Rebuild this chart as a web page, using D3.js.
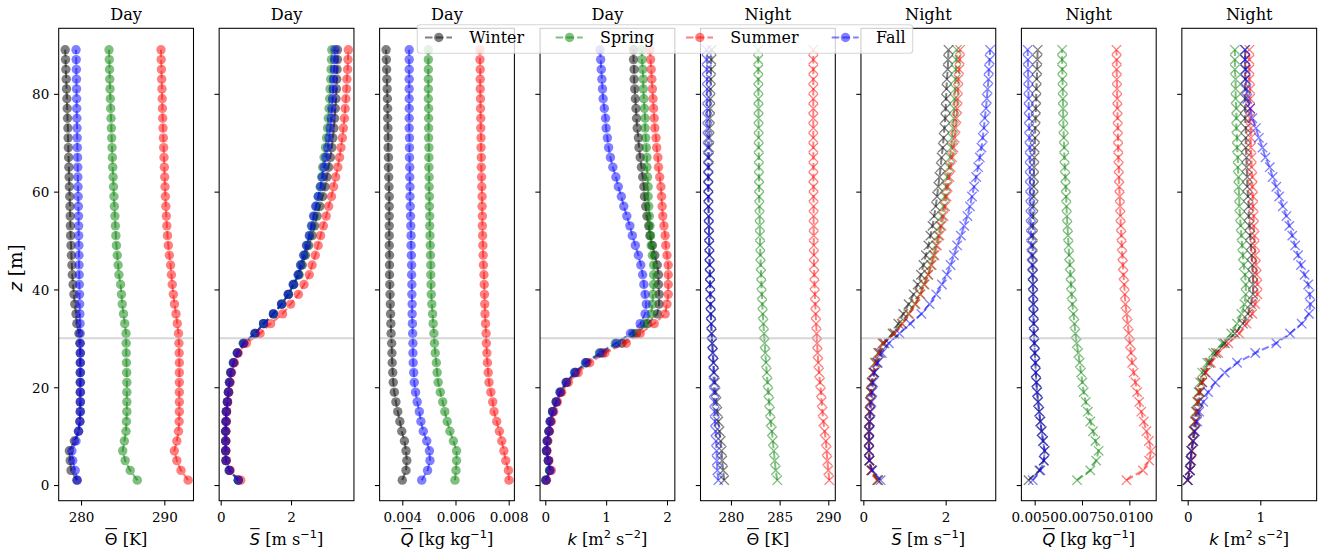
<!DOCTYPE html>
<html><head><meta charset="utf-8">
<script src="https://cdn.jsdelivr.net/npm/d3@7"></script>
<style>body{margin:0;background:#fff}</style>
</head><body>
<svg id="c" width="1323" height="554" xmlns="http://www.w3.org/2000/svg"></svg>
<script>
// ---------------- data ----------------
const heights = [1,3,5,7,9,11,13,15,17,19,21,23,25,27,29,31,33,35,37,39,41,43,45,47,49,51,53,55,57,59,61,63,65,67,69,71,73,75,77,79,81,83,85,87,89];
const seasons = ["Winter","Spring","Summer","Fall"];
const seasonColors = ["#000000","#008000","#ff0000","#0000ff"];

// Day: potential temperature [K]
const thetaDayWinter = [279.5,278.8,278.7,278.6,279.2,279.7,279.85,279.9,279.9,279.9,279.9,279.9,279.9,279.9,279.85,279.75,279.5,279.4,279.25,279.15,279.05,278.95,278.9,278.85,278.8,278.75,278.72,278.7,278.67,278.64,278.6,278.57,278.54,278.51,278.48,278.45,278.42,278.38,278.34,278.3,278.26,278.22,278.18,278.14,278.1];
const thetaDaySpring = [286.75,285.9,285.3,285.0,285.2,285.4,285.45,285.5,285.5,285.5,285.5,285.48,285.45,285.43,285.42,285.4,285.25,285.1,284.95,284.85,284.75,284.55,284.45,284.35,284.25,284.18,284.12,284.06,284.0,283.95,283.9,283.85,283.8,283.76,283.72,283.68,283.64,283.6,283.56,283.52,283.48,283.45,283.42,283.39,283.36];
const thetaDaySummer = [292.85,292.0,291.5,291.2,291.5,291.7,291.78,291.8,291.8,291.8,291.8,291.8,291.8,291.78,291.75,291.7,291.55,291.4,291.22,291.08,290.95,290.85,290.75,290.6,290.48,290.38,290.3,290.24,290.18,290.12,290.08,290.04,290.0,289.96,289.92,289.88,289.84,289.8,289.77,289.74,289.71,289.68,289.65,289.62,289.6];
const thetaDayFall = [279.55,279.3,279.0,278.9,279.4,279.7,279.88,279.92,279.93,279.93,279.93,279.93,279.93,279.93,279.92,279.9,279.88,279.86,279.84,279.82,279.8,279.78,279.76,279.75,279.74,279.72,279.71,279.7,279.68,279.66,279.64,279.62,279.6,279.58,279.56,279.54,279.52,279.5,279.48,279.47,279.46,279.45,279.44,279.42,279.4];

// Day: wind speed [m/s]
const sDayWinter = [0.5,0.24,0.15,0.14,0.14,0.14,0.15,0.16,0.19,0.22,0.25,0.29,0.37,0.48,0.66,0.98,1.22,1.5,1.74,1.93,2.08,2.23,2.32,2.41,2.5,2.6,2.67,2.74,2.82,2.9,2.97,3.02,3.07,3.12,3.16,3.19,3.22,3.24,3.26,3.28,3.29,3.3,3.31,3.32,3.32];
const sDaySpring = [0.5,0.25,0.15,0.14,0.14,0.14,0.15,0.16,0.19,0.22,0.25,0.28,0.36,0.47,0.64,0.98,1.22,1.5,1.73,1.92,2.07,2.21,2.28,2.37,2.45,2.53,2.6,2.66,2.72,2.78,2.83,2.87,2.9,2.94,2.98,3.01,3.04,3.06,3.08,3.1,3.11,3.13,3.14,3.15,3.16];
const sDaySummer = [0.57,0.27,0.16,0.15,0.15,0.15,0.16,0.17,0.2,0.23,0.27,0.31,0.39,0.5,0.73,1.12,1.42,1.76,1.99,2.21,2.37,2.52,2.6,2.69,2.77,2.84,2.92,3.0,3.07,3.15,3.21,3.27,3.33,3.38,3.42,3.46,3.49,3.52,3.54,3.56,3.58,3.59,3.61,3.62,3.63];
const sDayFall = [0.5,0.25,0.15,0.14,0.14,0.14,0.15,0.16,0.19,0.22,0.25,0.29,0.36,0.47,0.65,0.97,1.22,1.5,1.73,1.92,2.06,2.2,2.27,2.36,2.44,2.52,2.58,2.64,2.7,2.77,2.84,2.89,2.94,2.99,3.04,3.08,3.11,3.14,3.16,3.18,3.2,3.21,3.23,3.24,3.25];

// Day: specific humidity [kg/kg]
const qDayWinter = [0.0040,0.00414,0.00417,0.00414,0.00408,0.00398,0.00391,0.00383,0.00376,0.0037,0.00366,0.00364,0.00362,0.00361,0.0036,0.00358,0.00357,0.00356,0.00355,0.00354,0.00353,0.00352,0.00352,0.00352,0.00351,0.00351,0.00351,0.00351,0.00351,0.00351,0.0035,0.00349,0.00348,0.00348,0.00347,0.00347,0.00346,0.00345,0.00345,0.00344,0.00343,0.00342,0.00341,0.0034,0.00339];
const qDaySpring = [0.00598,0.00602,0.00604,0.00604,0.00592,0.00579,0.00569,0.0056,0.00552,0.00543,0.00535,0.00531,0.00528,0.00524,0.00521,0.00519,0.00516,0.00514,0.00511,0.00509,0.00508,0.00507,0.00507,0.00506,0.00505,0.00504,0.00503,0.00503,0.00502,0.00502,0.00501,0.00501,0.005,0.005,0.005,0.00499,0.00499,0.00499,0.00499,0.00498,0.00498,0.00498,0.00498,0.00498,0.00498];
const qDaySummer = [0.00801,0.00799,0.00789,0.00782,0.00774,0.00765,0.00755,0.00745,0.0074,0.00733,0.00726,0.00723,0.0072,0.00718,0.00716,0.00715,0.00713,0.00711,0.0071,0.00709,0.00708,0.00707,0.00705,0.00704,0.00703,0.00702,0.00701,0.00701,0.007,0.007,0.00699,0.00698,0.00697,0.00697,0.00696,0.00696,0.00695,0.00695,0.00694,0.00694,0.00693,0.00693,0.00693,0.00692,0.00692];
const qDayFall = [0.00473,0.00495,0.00504,0.00502,0.00492,0.00479,0.0047,0.00464,0.00456,0.0045,0.00445,0.00443,0.00441,0.0044,0.0044,0.00439,0.00438,0.00437,0.00437,0.00436,0.00436,0.00435,0.00435,0.00434,0.00433,0.00433,0.00432,0.00431,0.0043,0.00429,0.00429,0.00428,0.00428,0.00427,0.00427,0.00427,0.00426,0.00426,0.00426,0.00426,0.00426,0.00426,0.00426,0.00426,0.00426];

// Day: TKE [m2/s2]
const kDayWinter = [0.01,0.07,0.05,0.02,0.03,0.06,0.08,0.12,0.18,0.25,0.35,0.5,0.68,0.94,1.26,1.5,1.68,1.84,1.87,1.87,1.86,1.86,1.84,1.8,1.76,1.72,1.7,1.67,1.65,1.63,1.62,1.6,1.58,1.56,1.54,1.53,1.51,1.5,1.49,1.48,1.47,1.46,1.46,1.45,1.45];
const kDaySpring = [0.01,0.07,0.05,0.02,0.04,0.06,0.09,0.12,0.18,0.25,0.35,0.49,0.67,0.89,1.15,1.44,1.63,1.74,1.76,1.77,1.78,1.78,1.78,1.76,1.74,1.73,1.72,1.71,1.7,1.69,1.69,1.68,1.67,1.67,1.66,1.65,1.64,1.64,1.63,1.62,1.61,1.61,1.6,1.59,1.585];
const kDaySummer = [0.02,0.1,0.06,0.03,0.04,0.07,0.1,0.14,0.2,0.27,0.38,0.54,0.73,0.98,1.33,1.56,1.79,1.97,2.0,2.02,2.02,2.02,2.02,2.0,1.98,1.97,1.95,1.93,1.92,1.91,1.9,1.88,1.86,1.85,1.83,1.82,1.8,1.79,1.78,1.77,1.76,1.75,1.74,1.73,1.72];
const kDayFall = [0.01,0.08,0.05,0.02,0.03,0.06,0.08,0.12,0.18,0.24,0.34,0.48,0.66,0.9,1.17,1.4,1.56,1.64,1.66,1.64,1.62,1.6,1.57,1.53,1.48,1.43,1.39,1.34,1.29,1.25,1.2,1.16,1.11,1.07,1.04,1.02,1.0,0.99,0.97,0.95,0.94,0.93,0.92,0.91,0.9];

// Night: potential temperature [K]
const thetaNightWinter = [279.3,279.2,279.1,279.04,278.95,278.82,278.7,278.6,278.5,278.42,278.35,278.28,278.22,278.15,278.08,278.02,277.98,277.94,277.9,277.88,277.86,277.84,277.82,277.8,277.78,277.76,277.74,277.72,277.7,277.69,277.68,277.7,277.72,277.74,277.76,277.78,277.8,277.83,277.86,277.88,277.9,277.93,277.95,277.98,278.0];
const thetaNightSpring = [284.76,284.6,284.5,284.4,284.3,284.2,284.08,284.0,283.92,283.84,283.76,283.68,283.6,283.53,283.46,283.4,283.33,283.27,283.22,283.17,283.13,283.1,283.05,283.02,283.0,282.98,282.96,282.94,282.92,282.9,282.89,282.88,282.87,282.86,282.85,282.84,282.84,282.83,282.83,282.82,282.82,282.81,282.81,282.8,282.8];
const thetaNightSummer = [290.1,290.0,289.9,289.83,289.75,289.62,289.49,289.4,289.32,289.25,289.15,289.06,288.97,288.9,288.85,288.8,288.75,288.7,288.66,288.62,288.58,288.56,288.53,288.52,288.51,288.5,288.5,288.49,288.49,288.48,288.48,288.47,288.47,288.47,288.46,288.46,288.46,288.46,288.46,288.46,288.46,288.46,288.46,288.46,288.46];
const thetaNightFall = [278.7,278.6,278.55,278.52,278.47,278.42,278.36,278.32,278.28,278.25,278.22,278.2,278.18,278.12,278.06,278.0,277.96,277.92,277.9,277.88,277.86,277.84,277.8,277.78,277.76,277.74,277.72,277.7,277.68,277.67,277.66,277.64,277.63,277.62,277.61,277.6,277.58,277.57,277.56,277.56,277.55,277.54,277.52,277.51,277.5];

// Night: wind speed [m/s]
const sNightWinter = [0.36,0.2,0.14,0.13,0.13,0.13,0.14,0.15,0.16,0.18,0.2,0.26,0.33,0.4,0.51,0.71,0.85,0.97,1.1,1.22,1.32,1.4,1.46,1.52,1.58,1.63,1.68,1.72,1.76,1.79,1.82,1.85,1.88,1.9,1.93,1.95,1.97,1.99,2.0,2.01,2.02,2.03,2.05,2.06,2.07];
const sNightSpring = [0.35,0.2,0.15,0.14,0.14,0.14,0.15,0.16,0.17,0.19,0.21,0.24,0.28,0.36,0.47,0.75,0.93,1.09,1.25,1.38,1.47,1.57,1.64,1.7,1.76,1.82,1.87,1.91,1.95,1.98,2.01,2.04,2.08,2.11,2.14,2.16,2.18,2.2,2.21,2.22,2.23,2.24,2.25,2.26,2.27];
const sNightSummer = [0.33,0.19,0.15,0.14,0.14,0.14,0.15,0.16,0.17,0.19,0.21,0.24,0.29,0.37,0.47,0.76,0.95,1.11,1.27,1.39,1.49,1.58,1.66,1.73,1.79,1.85,1.9,1.95,1.99,2.02,2.05,2.09,2.12,2.16,2.19,2.22,2.24,2.26,2.28,2.29,2.3,2.31,2.33,2.34,2.35];
const sNightFall = [0.42,0.22,0.15,0.14,0.14,0.15,0.16,0.18,0.2,0.22,0.24,0.27,0.35,0.45,0.62,0.88,1.14,1.41,1.61,1.77,1.91,2.03,2.12,2.2,2.28,2.37,2.45,2.53,2.59,2.64,2.69,2.74,2.79,2.83,2.87,2.9,2.93,2.95,2.98,3.0,3.02,3.04,3.05,3.07,3.08];

// Night: specific humidity [kg/kg]
const qNightWinter = [0.00468,0.00525,0.00548,0.00553,0.00545,0.00537,0.0053,0.00524,0.00518,0.00513,0.00509,0.00506,0.00504,0.00501,0.00499,0.00497,0.00496,0.00495,0.00494,0.00493,0.00492,0.00491,0.00491,0.0049,0.0049,0.0049,0.00491,0.00492,0.00493,0.00494,0.00495,0.00496,0.00497,0.00499,0.005,0.00502,0.00503,0.00505,0.00506,0.00508,0.00509,0.00511,0.00513,0.00514,0.00516];
const qNightSpring = [0.00724,0.00794,0.00825,0.00838,0.00821,0.00808,0.00794,0.00781,0.0077,0.00759,0.00752,0.00745,0.00738,0.0073,0.00722,0.00715,0.0071,0.00705,0.00699,0.00695,0.00692,0.00689,0.00686,0.00682,0.00679,0.00676,0.00673,0.0067,0.00668,0.00666,0.00664,0.00662,0.00659,0.00657,0.00656,0.00654,0.00652,0.00651,0.0065,0.00649,0.00648,0.00647,0.00646,0.00645,0.00645];
const qNightSummer = [0.00985,0.01072,0.01105,0.01115,0.01103,0.0109,0.01076,0.01063,0.01052,0.01041,0.01032,0.01023,0.01015,0.01009,0.01003,0.00997,0.00991,0.00986,0.00979,0.00976,0.00973,0.00969,0.00966,0.00963,0.0096,0.00958,0.00955,0.00953,0.00951,0.00949,0.00947,0.00945,0.00944,0.00942,0.00941,0.0094,0.00939,0.00938,0.00937,0.00936,0.00935,0.00934,0.00933,0.00933,0.00932];
const qNightFall = [0.0049,0.0053,0.00548,0.00553,0.00544,0.00537,0.0053,0.00524,0.00518,0.00513,0.00509,0.00506,0.00504,0.00501,0.00498,0.00495,0.00494,0.00493,0.00492,0.00491,0.0049,0.00488,0.00486,0.00484,0.00482,0.00481,0.0048,0.00479,0.00478,0.00477,0.00476,0.00475,0.00474,0.00474,0.00474,0.00472,0.00471,0.0047,0.00469,0.00468,0.00467,0.00466,0.00465,0.00464,0.00463];

// Night: TKE [m2/s2]
const kNightWinter = [0.0,0.03,0.04,0.05,0.07,0.09,0.11,0.13,0.15,0.17,0.2,0.24,0.3,0.39,0.51,0.65,0.76,0.83,0.87,0.9,0.9,0.9,0.89,0.88,0.87,0.86,0.85,0.84,0.84,0.83,0.82,0.82,0.81,0.81,0.8,0.8,0.8,0.79,0.79,0.79,0.79,0.79,0.79,0.79,0.79];
const kNightSpring = [0.0,0.03,0.04,0.05,0.07,0.08,0.1,0.11,0.13,0.15,0.17,0.2,0.27,0.35,0.48,0.6,0.68,0.74,0.78,0.8,0.8,0.79,0.77,0.76,0.75,0.74,0.73,0.72,0.71,0.71,0.7,0.7,0.69,0.69,0.68,0.68,0.67,0.67,0.67,0.66,0.66,0.66,0.65,0.65,0.65];
const kNightSummer = [0.0,0.03,0.05,0.06,0.07,0.09,0.1,0.12,0.14,0.16,0.2,0.25,0.32,0.42,0.56,0.71,0.81,0.89,0.93,0.96,0.96,0.95,0.94,0.93,0.92,0.92,0.91,0.91,0.9,0.9,0.89,0.89,0.88,0.88,0.87,0.87,0.87,0.86,0.86,0.86,0.86,0.85,0.85,0.85,0.85];
const kNightFall = [0.0,0.03,0.04,0.05,0.08,0.1,0.13,0.16,0.215,0.28,0.38,0.51,0.68,0.93,1.22,1.41,1.57,1.67,1.69,1.68,1.66,1.61,1.56,1.52,1.48,1.44,1.4,1.36,1.31,1.26,1.22,1.17,1.13,1.07,1.03,0.98,0.94,0.89,0.86,0.82,0.81,0.8,0.8,0.79,0.79];

const panelTitles = ["Day","Day","Day","Day","Night","Night","Night","Night"];
const yTicks = [0,20,40,60,80];
const xTicksTheta = [280,290];
const xTicksThetaNight = [280,285,290];
const xTicksS = [0,2];
const xTicksQDay = [0.004,0.006,0.008];
const xTicksQNight = [0.005,0.0075,0.01];
const xTicksKDay = [0,1,2];
const xTicksKNight = [0,1];
const refHeight = 30;

// ---------------- layout / style ----------------
const SERIF = "'DejaVu Serif', serif";
const SANS = "'DejaVu Sans', sans-serif";
const FS_TICK = 13.5, FS_TITLE = 16.2, FS_LABEL = 16.2, FS_LEG = 15.9;
const W = 134.8, STEP = 160.45, LEFT0 = 58.7, TOP = 28.3, BOTTOM = 500.7;
const LEG_HANDLE_X = [425, 555.7, 686, 831.7];
const LEG_LEFT = 417.3, LEG_RIGHT = 912.7;

const lblTheta = [{t:"Θ", f:SANS, over:true}, {t:" [K]"}];
const lblS = [{t:"S", f:SANS, it:true, over:true}, {t:" [m s"}, {t:"−1", sup:true, f:SANS}, {t:"]"}];
const lblQ = [{t:"Q", f:SANS, it:true, over:true}, {t:" [kg kg"}, {t:"−1", sup:true, f:SANS}, {t:"]"}];
const lblK = [{t:"k", f:SANS, it:true}, {t:" [m"}, {t:"2", sup:true, f:SANS}, {t:" s"}, {t:"−2", sup:true, f:SANS}, {t:"]"}];

const panels = [
  {series:[thetaDayWinter,thetaDaySpring,thetaDaySummer,thetaDayFall], dom:[277.32,293.5], ticks:xTicksTheta, fmt:d3.format("d"), label:lblTheta, mk:"o"},
  {series:[sDayWinter,sDaySpring,sDaySummer,sDayFall], dom:[-0.044,3.79], ticks:xTicksS, fmt:d3.format("d"), label:lblS, mk:"o"},
  {series:[qDayWinter,qDaySpring,qDaySummer,qDayFall], dom:[0.003147,0.008215], ticks:xTicksQDay, fmt:d3.format(".3f"), label:lblQ, mk:"o"},
  {series:[kDayWinter,kDaySpring,kDaySummer,kDayFall], dom:[-0.086,2.129], ticks:xTicksKDay, fmt:d3.format("d"), label:lblK, mk:"o"},
  {series:[thetaNightWinter,thetaNightSpring,thetaNightSummer,thetaNightFall], dom:[276.87,290.72], ticks:xTicksThetaNight, fmt:d3.format("d"), label:lblTheta, mk:"x"},
  {series:[sNightWinter,sNightSpring,sNightSummer,sNightFall], dom:[-0.058,3.217], ticks:xTicksS, fmt:d3.format("d"), label:lblS, mk:"x"},
  {series:[qNightWinter,qNightSpring,qNightSummer,qNightFall], dom:[0.0043,0.011418], ticks:xTicksQNight, fmt:d3.format(".4f"), label:lblQ, mk:"x"},
  {series:[kNightWinter,kNightSpring,kNightSummer,kNightFall], dom:[-0.0806,1.776], ticks:xTicksKNight, fmt:d3.format("d"), label:lblK, mk:"x"}
];

const svg = d3.select("#c");
const y = d3.scaleLinear().domain([-3.2, 93.4]).range([BOTTOM, TOP]);

function richText(g, cx, baseline, parts, fs) {
  const t = g.append("text").attr("x", 0).attr("y", baseline)
    .attr("font-family", SERIF).attr("font-size", fs).attr("fill", "#000");
  let raised = false;
  parts.forEach(p => {
    const ts = t.append("tspan").text(p.t).attr("font-family", p.f || SERIF);
    if (p.it) ts.attr("font-style", "italic");
    if (p.sup) { ts.attr("font-size", fs*0.7).attr("dy", -fs*0.42); raised = true; }
    else if (raised) { ts.attr("dy", fs*0.42); raised = false; }
  });
  const w = t.node().getComputedTextLength();
  t.attr("x", cx - w/2);
  parts.forEach((p, i) => {
    if (p.over) {
      const r = t.node().getExtentOfChar(0);
      g.append("line").attr("x1", r.x + 0.5).attr("x2", r.x + r.width - 0.5)
        .attr("y1", baseline - fs*0.98).attr("y2", baseline - fs*0.98)
        .attr("stroke", "#000").attr("stroke-width", 1.1);
    }
  });
  return t;
}

function xMarker(s) {
  return `M${-s},${-s}L${s},${s}M${-s},${s}L${s},${-s}`;
}

panels.forEach((p, i) => {
  const x0 = LEFT0 + STEP*i;
  const x = d3.scaleLinear().domain(p.dom).range([x0, x0 + W]);
  const g = svg.append("g");

  g.append("rect").attr("x", x0).attr("y", TOP).attr("width", W).attr("height", BOTTOM-TOP).attr("fill", "#fff");

  const line = d3.line().x(d => x(d[0])).y(d => y(d[1]));
  p.series.forEach((vals, s) => {
    const pts = heights.map((z, k) => [vals[k], z]);
    const col = seasonColors[s];
    g.append("path").attr("d", line(pts)).attr("fill", "none")
      .attr("stroke", col).attr("stroke-opacity", 0.5).attr("stroke-width", 2)
      .attr("stroke-dasharray", "7.5,3.2");
    if (p.mk === "o") {
      g.append("g").selectAll("circle").data(pts).join("circle")
        .attr("cx", d => x(d[0])).attr("cy", d => y(d[1])).attr("r", 4.7)
        .attr("fill", col).attr("fill-opacity", 0.5);
    } else {
      g.append("g").selectAll("path").data(pts).join("path")
        .attr("transform", d => `translate(${x(d[0])},${y(d[1])})`)
        .attr("d", xMarker(4.7)).attr("fill", "none")
        .attr("stroke", col).attr("stroke-opacity", 0.5).attr("stroke-width", 1.35);
    }
  });

  g.append("line").attr("x1", x0).attr("x2", x0 + W).attr("y1", y(refHeight)).attr("y2", y(refHeight))
    .attr("stroke", "#bbbbbb").attr("stroke-opacity", 0.6).attr("stroke-width", 2);

  g.append("rect").attr("x", x0).attr("y", TOP).attr("width", W).attr("height", BOTTOM-TOP)
    .attr("fill", "none").attr("stroke", "#000").attr("stroke-width", 1.05);

  const ax = g.append("g").attr("transform", `translate(0,${BOTTOM})`)
    .call(d3.axisBottom(x).tickValues(p.ticks).tickFormat(p.fmt).tickSize(4.7).tickSizeOuter(0));
  ax.select(".domain").remove();
  ax.selectAll(".tick line").attr("stroke", "#000").attr("stroke-width", 1.05);
  ax.selectAll(".tick text").attr("y", 21.5).attr("dy", null)
    .attr("font-family", SERIF).attr("font-size", FS_TICK).attr("fill", "#000");

  const ay = g.append("g").attr("transform", `translate(${x0},0)`)
    .call(d3.axisLeft(y).tickValues(yTicks).tickFormat(d3.format("d")).tickSize(4.7).tickSizeOuter(0));
  ay.select(".domain").remove();
  ay.selectAll(".tick line").attr("stroke", "#000").attr("stroke-width", 1.05);
  if (i === 0) {
    ay.selectAll(".tick text").attr("x", -9.4).attr("dy", "0.36em")
      .attr("font-family", SERIF).attr("font-size", FS_TICK).attr("fill", "#000");
  } else {
    ay.selectAll(".tick text").remove();
  }

  g.append("text").attr("x", x0 + W/2).attr("y", 19.5).attr("text-anchor", "middle")
    .attr("font-family", SERIF).attr("font-size", FS_TITLE).attr("fill", "#000").text(panelTitles[i]);

  richText(g, x0 + W/2, 544.5, p.label, FS_LABEL);
});

// y label
const yl = svg.append("text").attr("transform", "translate(22,268) rotate(-90)")
  .attr("text-anchor", "middle").attr("font-family", SERIF).attr("font-size", 18.5).attr("fill", "#000");
yl.append("tspan").attr("font-family", SANS).attr("font-style", "italic").text("z");
yl.append("tspan").text(" [m]");

// legend
const lg = svg.append("g");
lg.append("rect").attr("x", LEG_LEFT).attr("y", 24.7).attr("width", LEG_RIGHT - LEG_LEFT).attr("height", 28.6).attr("rx", 3)
  .attr("fill", "#fff").attr("fill-opacity", 0.8).attr("stroke", "#cccccc").attr("stroke-opacity", 0.8).attr("stroke-width", 1.05);
seasons.forEach((s, i) => {
  const col = seasonColors[i];
  const lx = LEG_HANDLE_X[i];
  lg.append("line").attr("x1", lx).attr("x2", lx + 27).attr("y1", 37.5).attr("y2", 37.5)
    .attr("stroke", col).attr("stroke-opacity", 0.5).attr("stroke-width", 2).attr("stroke-dasharray", "7.5,3.2");
  lg.append("circle").attr("cx", lx + 13.8).attr("cy", 37.5).attr("r", 4.7).attr("fill", col).attr("fill-opacity", 0.5);
  lg.append("text").attr("x", lx + 44.3).attr("y", 43.2).attr("font-family", SERIF)
    .attr("font-size", FS_LEG).attr("fill", "#000").text(s);
});
</script>
</body></html>
